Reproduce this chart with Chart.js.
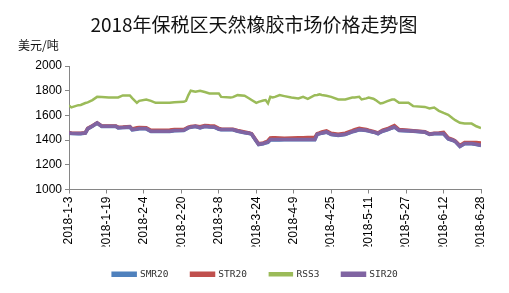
<!DOCTYPE html>
<html>
<head>
<meta charset="utf-8">
<script src="https://cdn.jsdelivr.net/npm/chart.js@4"></script>
<style>
  html, body { margin: 0; padding: 0; background: #fff; }
  #wrap { width: 509px; height: 293px; }
</style>
</head>
<body>
<div id="wrap"><canvas id="chart" width="509" height="293"></canvas></div>
<script>
// day offsets from 2018-1-3
const days = [0, 1, 4, 5, 7, 8, 10, 12, 14, 17, 20, 21, 23, 26, 27, 29, 30, 33, 35, 37,
    41, 43, 45, 49, 50, 51, 52, 54, 56, 58, 60, 62, 64, 65, 69, 70, 72, 75, 77, 78,
    80, 81, 83, 84, 85, 86, 87, 88, 90, 92, 95, 98, 100, 102, 105, 106, 107, 108, 110, 112,
    115, 118, 121, 122, 124, 125, 127, 128, 130, 131, 132, 133, 134, 136, 138, 139, 141, 145, 147, 152,
    154, 156, 158, 160, 162, 164, 165, 167, 169, 172, 174, 176];

const tickLabels = ["2018-1-3", "2018-1-19", "2018-2-4", "2018-2-20", "2018-3-8", "2018-3-24",
    "2018-4-9", "2018-4-25", "2018-5-11", "2018-5-27", "2018-6-12", "2018-6-28"];

const rss3 = [1680, 1665, 1683, 1685, 1700, 1705, 1724, 1750, 1748, 1745, 1745, 1745, 1762, 1762, 1740, 1702, 1718, 1729, 1718, 1702,
    1702, 1702, 1707, 1710, 1718, 1764, 1800, 1791, 1800, 1789, 1778, 1778, 1778, 1750, 1745, 1748, 1764, 1759, 1737, 1725,
    1702, 1710, 1720, 1724, 1697, 1750, 1745, 1750, 1764, 1756, 1745, 1737, 1750, 1734, 1764, 1766, 1770, 1765, 1759, 1750,
    1729, 1729, 1745, 1745, 1750, 1729, 1738, 1745, 1735, 1724, 1710, 1697, 1700, 1715, 1729, 1729, 1702, 1702, 1675, 1669,
    1656, 1664, 1637, 1620, 1605, 1575, 1561, 1540, 1534, 1534, 1512, 1498];

const sir20 = [1458, 1455, 1453, 1453, 1458, 1493, 1515, 1539, 1512, 1512, 1512, 1501, 1503, 1507, 1485, 1490, 1493, 1493, 1472, 1472,
    1472, 1472, 1478, 1480, 1490, 1501, 1505, 1512, 1501, 1512, 1508, 1507, 1490, 1485, 1485, 1485, 1474, 1462, 1455, 1450,
    1393, 1366, 1372, 1380, 1385, 1404, 1404, 1404, 1404, 1404, 1404, 1404, 1404, 1404, 1404, 1447, 1452, 1458, 1466, 1447,
    1439, 1447, 1468, 1474, 1485, 1483, 1480, 1475, 1466, 1460, 1453, 1465, 1474, 1485, 1500, 1507, 1480, 1476, 1474, 1466,
    1447, 1453, 1453, 1453, 1412, 1399, 1390, 1350, 1372, 1372, 1366, 1358];

const str20 = [1460, 1457, 1455, 1455, 1460, 1495, 1517, 1540, 1515, 1515, 1514, 1505, 1506, 1510, 1490, 1500, 1502, 1500, 1480, 1480,
    1480, 1482, 1485, 1486, 1495, 1505, 1510, 1515, 1508, 1518, 1516, 1515, 1495, 1490, 1488, 1488, 1478, 1466, 1458, 1452,
    1397, 1370, 1376, 1385, 1395, 1418, 1420, 1420, 1418, 1415, 1418, 1420, 1420, 1422, 1422, 1452, 1458, 1466, 1474, 1455,
    1447, 1456, 1476, 1484, 1495, 1492, 1486, 1480, 1470, 1464, 1458, 1470, 1480, 1492, 1510, 1518, 1486, 1480, 1476, 1468,
    1450, 1456, 1458, 1462, 1418, 1404, 1394, 1356, 1380, 1380, 1380, 1376];

const smr20 = [1456, 1453, 1451, 1451, 1456, 1490, 1512, 1536, 1510, 1510, 1510, 1499, 1501, 1505, 1483, 1488, 1491, 1491, 1470, 1470,
    1470, 1470, 1476, 1478, 1488, 1499, 1503, 1510, 1499, 1510, 1506, 1505, 1488, 1483, 1483, 1483, 1472, 1460, 1453, 1448,
    1390, 1363, 1369, 1377, 1382, 1400, 1400, 1400, 1401, 1402, 1402, 1402, 1402, 1402, 1402, 1445, 1450, 1456, 1464, 1445,
    1437, 1445, 1466, 1472, 1483, 1481, 1478, 1473, 1464, 1458, 1451, 1463, 1472, 1483, 1498, 1505, 1478, 1474, 1472, 1464,
    1445, 1451, 1451, 1451, 1410, 1397, 1388, 1348, 1370, 1370, 1364, 1356];

const seriesNames = ["SMR20", "STR20", "RSS3", "SIR20"];
const seriesColors = ["#4F81BD", "#C0504D", "#9BBB59", "#8064A2"];
const seriesValues = [smr20, str20, rss3, sir20];
const seriesWidths = [3.5, 3.5, 2.5, 3.5];
const seriesOrder = [3, 2, 1, 0];

// Title and unit label, drawn at fixed spots above the plot
const headerText = {
    id: "headerText",
    afterDraw(chart) {
        const ctx = chart.ctx;
        ctx.save();
        ctx.fillStyle = "#111";
        ctx.textBaseline = "middle";
        ctx.textAlign = "center";
        ctx.font = '19px "Noto Sans CJK SC", sans-serif';
        ctx.fillText("2018年保税区天然橡胶市场价格走势图", 254, 25);
        ctx.textAlign = "left";
        ctx.font = '12px "Noto Sans CJK SC", sans-serif';
        ctx.fillText("美元/吨", 18, 45);
        ctx.restore();
    }
};

const datasets = seriesNames.map(function(name, i) {
    return {
        label: name,
        data: days.map((d, j) => ({ x: d, y: seriesValues[i][j] })),
        borderColor: seriesColors[i],
        backgroundColor: seriesColors[i],
        borderWidth: seriesWidths[i],
        pointRadius: 0,
        tension: 0,
        order: seriesOrder[i]
    };
});

new Chart(document.getElementById("chart"), {
    type: "line",
    data: { datasets: datasets },
    options: {
        responsive: false,
        animation: false,
        layout: { padding: { left: 30, right: 28, top: 66, bottom: 4 } },
        plugins: {
            title: { display: false },
            legend: {
                position: "bottom",
                labels: {
                    boxWidth: 22,
                    boxHeight: 2,
                    padding: 23,
                    color: "#333",
                    font: { family: '"DejaVu Sans Mono", monospace', size: 9.5 },
                    sort: (a, b) => a.datasetIndex - b.datasetIndex
                }
            },
            tooltip: { enabled: false }
        },
        scales: {
            x: {
                type: "linear",
                min: 0,
                max: 176,
                grid: { display: true, drawOnChartArea: false, tickLength: 4, color: "#868686" },
                border: { color: "#868686" },
                ticks: {
                    stepSize: 16,
                    autoSkip: false,
                    minRotation: 90,
                    maxRotation: 90,
                    color: "#000",
                    font: { family: '"Liberation Sans", sans-serif', size: 12 },
                    callback: (v) => tickLabels[Math.round(v / 16)]
                },
                afterFit: (scale) => { scale.height = 57; }
            },
            y: {
                min: 1000,
                max: 2000,
                grid: { display: true, drawOnChartArea: false, tickLength: 4, color: "#868686" },
                border: { color: "#868686" },
                ticks: {
                    stepSize: 200,
                    color: "#000",
                    font: { family: '"Liberation Sans", sans-serif', size: 12 },
                    padding: 3,
                    callback: (v) => String(v)
                },
                afterFit: (scale) => { scale.width = 39; }
            }
        }
    },
    plugins: [headerText]
});
</script>
</body>
</html>
